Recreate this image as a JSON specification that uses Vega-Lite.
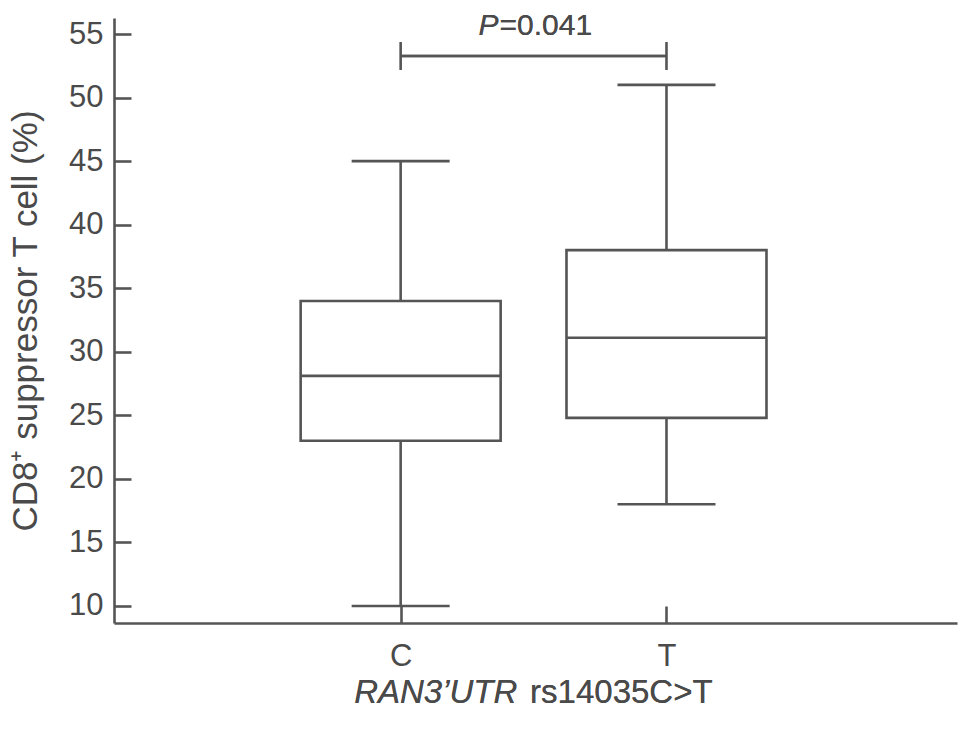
{
  "$schema": "https://vega.github.io/schema/vega-lite/v6.json",
  "width": 843,
  "height": 605,
  "autosize": {"type": "none"},
  "padding": {"left": 114, "top": 18, "right": 12, "bottom": 106},
  "background": "white",
  "config": {
    "view": {"stroke": null},
    "font": "Liberation Sans",
    "axis": {
      "domainColor": "#555555",
      "domainWidth": 2.6,
      "tickColor": "#555555",
      "tickWidth": 2.6,
      "tickSize": -17,
      "labelColor": "#4a4a4a",
      "labelFont": "Liberation Sans",
      "titleFont": "Liberation Sans",
      "titleColor": "#4a4a4a",
      "grid": false
    }
  },
  "data": {
    "values": [
      {"genotype": "C", "pos": 1, "min": 10, "q1": 23, "median": 28.1, "q3": 34, "max": 45},
      {"genotype": "T", "pos": 2, "min": 18, "q1": 24.8, "median": 31.1, "q3": 38, "max": 51}
    ]
  },
  "encoding": {
    "x": {
      "field": "pos",
      "type": "quantitative",
      "scale": {"domain": [-0.0595, 3.074], "nice": false, "zero": false},
      "axis": {
        "values": [1, 2],
        "labelExpr": "datum.value == 1 ? 'C' : 'T'",
        "labelFontSize": 31,
        "labelPadding": 35,
        "labelBaseline": "top",
        "title": null
      }
    }
  },
  "layer": [
    {
      "mark": {"type": "rule", "color": "#555555", "strokeWidth": 2.6},
      "encoding": {
        "y": {
          "field": "min",
          "type": "quantitative",
          "scale": {"domain": [8.66, 56.26], "nice": false, "zero": false},
          "axis": {
            "values": [10, 15, 20, 25, 30, 35, 40, 45, 50, 55],
            "labelFontSize": 31,
            "labelPadding": 28,
            "title": "CD8⁺ suppressor T cell (%)",
            "titleFontSize": 35,
            "titleFontWeight": "normal",
            "titleX": -78,
            "titleBaseline": "alphabetic"
          }
        },
        "y2": {"field": "max"}
      }
    },
    {
      "mark": {"type": "bar", "fill": "white", "stroke": "#555555", "strokeWidth": 2.6, "size": 200},
      "encoding": {
        "y": {"field": "q1", "type": "quantitative"},
        "y2": {"field": "q3"}
      }
    },
    {
      "mark": {"type": "tick", "orient": "horizontal", "color": "#555555", "opacity": 1, "thickness": 2.6, "size": 200},
      "encoding": {"y": {"field": "median", "type": "quantitative"}}
    },
    {
      "mark": {"type": "tick", "orient": "horizontal", "color": "#555555", "opacity": 1, "thickness": 2.6, "size": 98},
      "encoding": {"y": {"field": "min", "type": "quantitative"}}
    },
    {
      "mark": {"type": "tick", "orient": "horizontal", "color": "#555555", "opacity": 1, "thickness": 2.6, "size": 98},
      "encoding": {"y": {"field": "max", "type": "quantitative"}}
    },
    {
      "mark": {"type": "rule", "color": "#555555", "strokeWidth": 2.6},
      "encoding": {
        "y": {"datum": 52.17, "type": "quantitative"},
        "y2": {"datum": 54.37}
      }
    },
    {
      "mark": {"type": "rule", "color": "#555555", "strokeWidth": 2.6},
      "encoding": {
        "x": {"datum": 1, "type": "quantitative"},
        "x2": {"datum": 2},
        "y": {"datum": 53.27, "type": "quantitative"}
      }
    },
    {
      "mark": {"type": "text", "text": "P", "fontStyle": "italic", "align": "right", "baseline": "alphabetic", "fontSize": 30, "color": "#4a4a4a"},
      "encoding": {
        "x": {"datum": 1.368, "type": "quantitative"},
        "y": {"datum": 54.92, "type": "quantitative"}
      }
    },
    {
      "mark": {"type": "text", "text": "=0.041", "align": "left", "baseline": "alphabetic", "fontSize": 30, "color": "#4a4a4a"},
      "encoding": {
        "x": {"datum": 1.372, "type": "quantitative"},
        "y": {"datum": 54.92, "type": "quantitative"}
      }
    },
    {
      "mark": {"type": "text", "text": "RAN3’UTR", "fontStyle": "italic", "align": "right", "baseline": "alphabetic", "fontSize": 33, "color": "#4a4a4a"},
      "encoding": {
        "x": {"datum": 1.439, "type": "quantitative"},
        "y": {"datum": 2.37, "type": "quantitative"}
      }
    },
    {
      "mark": {"type": "text", "text": "rs14035C>T", "align": "left", "baseline": "alphabetic", "fontSize": 33, "color": "#4a4a4a"},
      "encoding": {
        "x": {"datum": 1.487, "type": "quantitative"},
        "y": {"datum": 2.37, "type": "quantitative"}
      }
    }
  ]
}
